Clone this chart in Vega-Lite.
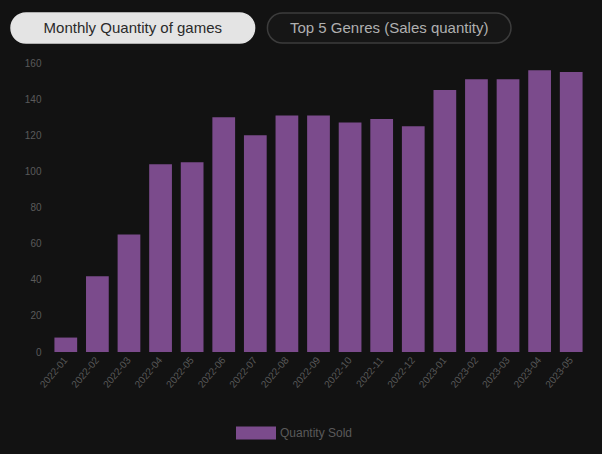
{
  "$schema": "https://vega.github.io/schema/vega-lite/v6.json",
  "background": "#121212",
  "padding": {"left": 10, "top": 12, "right": 15, "bottom": 14},
  "columns": 1,
  "spacing": 14,
  "resolve": {"scale": {"color": "independent", "fill": "independent", "stroke": "independent"}},
  "config": {
    "view": {"stroke": null},
    "font": "Liberation Sans"
  },
  "datasets": {
    "buttons": [
      {"label": "Monthly Quantity of games", "active": "yes"},
      {"label": "Top 5 Genres (Sales quantity)", "active": "no"}
    ],
    "monthly": [
      {"month": "2022-01", "quantity": 8},
      {"month": "2022-02", "quantity": 42},
      {"month": "2022-03", "quantity": 65},
      {"month": "2022-04", "quantity": 104},
      {"month": "2022-05", "quantity": 105},
      {"month": "2022-06", "quantity": 130},
      {"month": "2022-07", "quantity": 120},
      {"month": "2022-08", "quantity": 131},
      {"month": "2022-09", "quantity": 131},
      {"month": "2022-10", "quantity": 127},
      {"month": "2022-11", "quantity": 129},
      {"month": "2022-12", "quantity": 125},
      {"month": "2023-01", "quantity": 145},
      {"month": "2023-02", "quantity": 151},
      {"month": "2023-03", "quantity": 151},
      {"month": "2023-04", "quantity": 156},
      {"month": "2023-05", "quantity": 155}
    ]
  },
  "concat": [
    {
      "data": {"name": "buttons"},
      "width": 537,
      "height": 30,
      "encoding": {
        "x": {
          "field": "label",
          "type": "nominal",
          "sort": null,
          "axis": null,
          "scale": {"paddingInner": 0.05, "paddingOuter": 0, "range": [-39, 461]}
        }
      },
      "layer": [
        {
          "mark": {"type": "bar", "cornerRadius": 15, "strokeWidth": 1.5},
          "encoding": {
            "fill": {
              "field": "active",
              "type": "nominal",
              "scale": {"domain": ["yes", "no"], "range": ["#e4e4e4", "#161616"]},
              "legend": null
            },
            "stroke": {
              "field": "active",
              "type": "nominal",
              "scale": {"domain": ["yes", "no"], "range": ["#e4e4e4", "#3c3c3c"]},
              "legend": null
            }
          }
        },
        {
          "mark": {"type": "text", "fontSize": 15, "baseline": "middle"},
          "encoding": {
            "text": {"field": "label"},
            "y": {"value": 15},
            "color": {
              "field": "active",
              "type": "nominal",
              "scale": {"domain": ["yes", "no"], "range": ["#2a2a2a", "#b0b0b0"]},
              "legend": null
            }
          }
        }
      ]
    },
    {
      "data": {"name": "monthly"},
      "width": 537,
      "height": 289,
      "mark": {"type": "bar"},
      "encoding": {
        "x": {
          "field": "month",
          "type": "ordinal",
          "sort": null,
          "title": null,
          "scale": {"paddingInner": 0.28, "paddingOuter": 0.14},
          "axis": {
            "labelAngle": -50,
            "labelColor": "#5a5a5a",
            "labelFontSize": 10,
            "domain": false,
            "ticks": false,
            "labelPadding": 6
          }
        },
        "y": {
          "field": "quantity",
          "type": "quantitative",
          "title": null,
          "scale": {"domain": [0, 160]},
          "axis": {
            "values": [0, 20, 40, 60, 80, 100, 120, 140, 160],
            "labelColor": "#5a5a5a",
            "labelFontSize": 10,
            "domain": false,
            "ticks": false,
            "grid": false,
            "labelPadding": 9,
            "minExtent": 39
          }
        },
        "color": {
          "datum": "Quantity Sold",
          "type": "nominal",
          "scale": {"range": ["#7b4b8c"]},
          "legend": {
            "title": null,
            "orient": "none",
            "legendX": 186,
            "legendY": 350,
            "direction": "horizontal",
            "symbolType": "M-1,-0.32H1V0.32H-1Z",
            "symbolSize": 1600,
            "symbolStrokeWidth": 0,
            "labelColor": "#5a5a5a",
            "labelFontSize": 12
          }
        }
      }
    }
  ]
}
